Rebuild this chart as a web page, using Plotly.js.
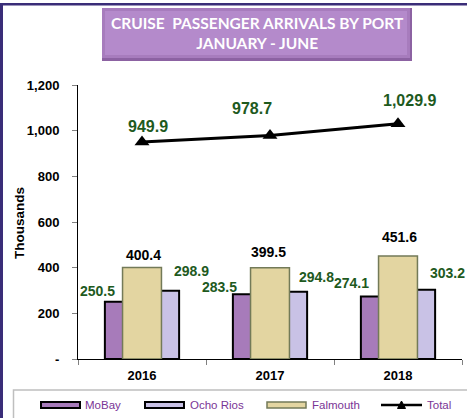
<!DOCTYPE html>
<html>
<head>
<meta charset="utf-8">
<script src="https://cdn.plot.ly/plotly-3.0.1.min.js"></script>
<style>
html,body{margin:0;padding:0;background:#fff;}
#chart{width:467px;height:418px;}
</style>
</head>
<body>
<div id="chart"></div>
<script>
// ---- data ----
var years = ['2016', '2017', '2018'];
var mobay = [250.5, 283.5, 274.1];
var ochoRios = [298.9, 294.8, 303.2];
var falmouth = [400.4, 399.5, 451.6];
var total = [949.9, 978.7, 1029.9];
var seriesNames = ['MoBay', 'Ocho Rios', 'Falmouth', 'Total'];
var yTickVals = [0, 200, 400, 600, 800, 1000, 1200];
var yTickText = ['-', '200', '400', '600', '800', '1,000', '1,200'];

// ---- styles ----
var W = 467, H = 418;
var M = {l: 78, r: 5, t: 85, b: 59};
var plotW = W - M.l - M.r, plotH = H - M.t - M.b;
function px(x) { return (x - M.l) / plotW; }
function py(y) { return (H - M.b - y) / plotH; }

var cMoBay = '#A77BBA', cOcho = '#C9C2E6', cFal = '#E3D5A1';
var green = '#1E5A1E';
var fnt = 'Liberation Sans, Arial, sans-serif';

function fmt(v) {
  return v.toLocaleString('en-US', {minimumFractionDigits: 1, maximumFractionDigits: 1});
}

var traces = [
  {type: 'bar', name: seriesNames[0], x: years, y: mobay, offset: -0.29, width: 0.29,
   marker: {color: cMoBay, line: {color: '#000', width: 2}}, showlegend: false, hoverinfo: 'y'},
  {type: 'bar', name: seriesNames[1], x: years, y: ochoRios, offset: 0, width: 0.29,
   marker: {color: cOcho, line: {color: '#000', width: 2}}, showlegend: false, hoverinfo: 'y'},
  {type: 'bar', name: seriesNames[2], x: years, y: falmouth, offset: -0.152, width: 0.304,
   marker: {color: cFal, line: {color: '#737A58', width: 1.5}}, showlegend: false, hoverinfo: 'y'},
  {type: 'scatter', mode: 'lines+markers', name: seriesNames[3], x: years, y: total,
   line: {color: '#000', width: 3}, marker: {symbol: 'triangle-up', size: 13, color: '#000'},
   showlegend: false}
];

// label offsets (pixels) per series
var labelSets = [
  {vals: mobay, color: green, dx: [-45, -51, -47], dy: [11, 7, 13], size: 14},
  {vals: ochoRios, color: green, dx: [49, 46, 49], dy: [20, 15, 17], size: 14},
  {vals: falmouth, color: '#000', dx: [1, -2, 1], dy: [13, 16, 19], size: 14},
  {vals: total, color: green, dx: [6, -18, 11], dy: [16, 27, 23], size: 16}
];
var annotations = [];
labelSets.forEach(function (s) {
  s.vals.forEach(function (v, i) {
    annotations.push({x: i, y: v, xref: 'x', yref: 'y', text: '<b>' + fmt(v) + '</b>',
      showarrow: false, xshift: s.dx[i], yshift: s.dy[i], xanchor: 'center', yanchor: 'middle',
      font: {family: fnt, size: s.size, color: s.color}});
  });
});

// title box
var shapes = [];
shapes.push({type: 'rect', xref: 'paper', yref: 'paper', x0: px(102), x1: px(412), y0: py(8), y1: py(61),
  fillcolor: '#8C62A2', line: {width: 0}, layer: 'above'});
shapes.push({type: 'rect', xref: 'paper', yref: 'paper', x0: px(102), x1: px(410), y0: py(8), y1: py(58),
  fillcolor: '#A77CBD', line: {width: 0}, layer: 'above'});
shapes.push({type: 'rect', xref: 'paper', yref: 'paper', x0: px(105), x1: px(407), y0: py(11), y1: py(55),
  fillcolor: '#B48ACB', line: {width: 0}, layer: 'above'});
annotations.push({xref: 'paper', yref: 'paper', x: px(257), y: py(33), xanchor: 'center', yanchor: 'middle',
  showarrow: false, align: 'center',
  text: '<b>CRUISE&nbsp;&nbsp;PASSENGER ARRIVALS BY PORT</b><br><b>JANUARY - JUNE</b>',
  font: {family: 'Lato, Open Sans, sans-serif', size: 15.5, color: '#fff'}});

// y axis title
annotations.push({xref: 'paper', yref: 'paper', x: px(20), y: py(223), xanchor: 'center', yanchor: 'middle',
  showarrow: false, textangle: -90, text: '<b>Thousands</b>',
  font: {family: fnt, size: 13.5, color: '#000'}});

// page frame
shapes.push({type: 'rect', xref: 'paper', yref: 'paper', x0: px(0), x1: px(3), y0: py(3), y1: py(420),
  fillcolor: '#3A2D78', line: {width: 0}});
shapes.push({type: 'rect', xref: 'paper', yref: 'paper', x0: px(0), x1: px(470), y0: py(3), y1: py(5.5),
  fillcolor: '#3A2D78', line: {width: 0}});

// custom legend
shapes.push({type: 'rect', xref: 'paper', yref: 'paper', x0: px(13.5), x1: px(475), y0: py(390), y1: py(430),
  fillcolor: 'rgba(0,0,0,0)', line: {color: '#BFBFBF', width: 1.5}});
var legItems = [
  {x0: 41, x1: 80, tx: 83, fill: cMoBay, line: '#000', lw: 2, kind: 'bar'},
  {x0: 145, x1: 184, tx: 188, fill: cOcho, line: '#000', lw: 2, kind: 'bar'},
  {x0: 267, x1: 306, tx: 310, fill: cFal, line: '#737A58', lw: 1.5, kind: 'bar'},
  {x0: 381, x1: 422, tx: 425, kind: 'line'}
];
var legY = 405;
legItems.forEach(function (it, i) {
  if (it.kind === 'bar') {
    shapes.push({type: 'rect', xref: 'paper', yref: 'paper', x0: px(it.x0), x1: px(it.x1),
      y0: py(legY + 3), y1: py(legY - 3), fillcolor: it.fill, line: {color: it.line, width: it.lw}});
  } else {
    shapes.push({type: 'line', xref: 'paper', yref: 'paper', x0: px(it.x0), x1: px(it.x1),
      y0: py(legY), y1: py(legY), line: {color: '#000', width: 2.5}});
    shapes.push({type: 'path', xref: 'paper', yref: 'paper',
      path: 'M' + px(397.5) + ',' + py(legY + 3.5) + ' L' + px(405.5) + ',' + py(legY + 3.5) + ' L' + px(401.5) + ',' + py(legY - 4) + ' Z',
      fillcolor: '#000', line: {color: '#000', width: 1}});
  }
  annotations.push({xref: 'paper', yref: 'paper', x: px(it.tx), y: py(legY), xanchor: 'left', yanchor: 'middle',
    showarrow: false, text: seriesNames[i], font: {family: fnt, size: 11.5, color: '#7A3596'}});
});

var layout = {
  width: W, height: H,
  margin: M,
  paper_bgcolor: '#fff', plot_bgcolor: '#fff',
  barmode: 'overlay',
  showlegend: false,
  xaxis: {
    type: 'category', range: [-0.5, 2.5], fixedrange: true,
    showline: true, linecolor: '#000', linewidth: 1,
    ticks: 'outside', tickson: 'boundaries', ticklen: 5, tickcolor: '#808080', ticklabelstandoff: 4,
    showgrid: false, zeroline: false,
    tickfont: {family: fnt, size: 13, color: '#000', weight: 'bold'}
  },
  yaxis: {
    range: [0, 1200], fixedrange: true,
    tickvals: yTickVals, ticktext: yTickText,
    showline: true, linecolor: '#000', linewidth: 1,
    ticks: 'outside', ticklen: 5, tickcolor: '#808080', ticklabelstandoff: 10,
    showgrid: false, zeroline: false,
    tickfont: {family: fnt, size: 13, color: '#000', weight: 'bold'}
  },
  annotations: annotations,
  shapes: shapes
};

Plotly.newPlot('chart', traces, layout, {displayModeBar: false, staticPlot: true});
</script>
</body>
</html>
